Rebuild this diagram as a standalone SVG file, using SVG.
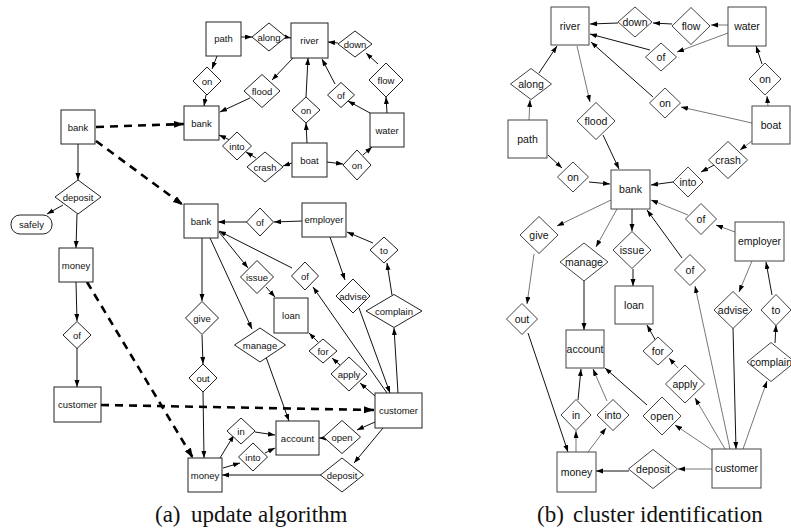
<svg xmlns="http://www.w3.org/2000/svg" width="791" height="529" viewBox="0 0 791 529">
<style>
.n rect,.n polygon{fill:#fff;stroke:#222;stroke-width:1}
.b rect,.b polygon{fill:#fff;stroke:#444;stroke-width:1}
.n text{font-family:"Liberation Sans",Arial,sans-serif;font-size:9.5px;text-anchor:middle;fill:#111}
.b text{font-family:"Liberation Sans",Arial,sans-serif;font-size:10.5px;text-anchor:middle;fill:#111}
.e line{stroke:#111;stroke-width:1;marker-end:url(#ah)}
.e line.g{stroke:#777}
.e line.d{stroke:#000;stroke-width:2.6;stroke-dasharray:8,6;marker-end:url(#dh)}
text.cap{font-family:"Liberation Serif","Times New Roman",serif;font-size:23px;fill:#111}
</style>
<defs>
<marker id="ah" markerUnits="userSpaceOnUse" markerWidth="8" markerHeight="6" refX="7" refY="2.5" orient="auto"><path d="M0,0 L7,2.5 L0,5 z" fill="#000"/></marker>
<marker id="dh" markerUnits="userSpaceOnUse" markerWidth="11" markerHeight="8" refX="10" refY="3.5" orient="auto"><path d="M0,0 L10,3.5 L0,7 z" fill="#000"/></marker>
</defs>
<rect width="791" height="529" fill="#fff"/>

<g id="connectors" class="e">
<line x1="78" y1="144" x2="78" y2="180"/>
<line x1="63" y1="205" x2="47" y2="214"/>
<line x1="77" y1="214" x2="76" y2="248"/>
<line x1="76" y1="282" x2="77" y2="321"/>
<line x1="77" y1="348" x2="77" y2="387"/>
<line class="d" x1="96" y1="127" x2="184" y2="124"/>
<line class="d" x1="96" y1="141" x2="183" y2="205"/>
<line class="d" x1="87" y1="282" x2="193" y2="458"/>
<line class="d" x1="101" y1="405" x2="374" y2="410"/>
<line x1="241" y1="37" x2="252" y2="37"/>
<line x1="286" y1="37" x2="291" y2="38"/>
<line x1="217" y1="56" x2="212" y2="69"/>
<line x1="206" y1="95" x2="204" y2="106"/>
<line x1="293" y1="58" x2="272" y2="80"/>
<line x1="250" y1="98" x2="220" y2="112"/>
<line x1="307" y1="143" x2="306" y2="123"/>
<line x1="306" y1="97" x2="308" y2="58"/>
<line x1="370" y1="113" x2="348" y2="101"/>
<line x1="335" y1="84" x2="322" y2="59"/>
<line x1="387" y1="113" x2="386" y2="97"/>
<line x1="378" y1="64" x2="366" y2="53"/>
<line x1="338" y1="43" x2="328" y2="42"/>
<line x1="292" y1="163" x2="283" y2="166"/>
<line x1="256" y1="158" x2="246" y2="152"/>
<line x1="230" y1="140" x2="219" y2="135"/>
<line x1="327" y1="162" x2="343" y2="164"/>
<line x1="363" y1="155" x2="372" y2="147"/>
<line x1="302" y1="221" x2="274" y2="222"/>
<line x1="247" y1="222" x2="218" y2="222"/>
<line x1="202" y1="238" x2="202" y2="301"/>
<line x1="202" y1="335" x2="203" y2="364"/>
<line x1="203" y1="392" x2="204" y2="458"/>
<line x1="219" y1="232" x2="248" y2="268"/>
<line x1="266" y1="287" x2="275" y2="297"/>
<line x1="210" y1="238" x2="252" y2="329"/>
<line x1="266" y1="357" x2="289" y2="421"/>
<line x1="387" y1="393" x2="313" y2="287"/>
<line x1="292" y1="268" x2="219" y2="231"/>
<line x1="330" y1="237" x2="345" y2="280"/>
<line x1="359" y1="308" x2="390" y2="393"/>
<line x1="398" y1="393" x2="394" y2="328"/>
<line x1="392" y1="295" x2="387" y2="263"/>
<line x1="373" y1="243" x2="347" y2="232"/>
<line x1="375" y1="396" x2="360" y2="383"/>
<line x1="340" y1="365" x2="332" y2="358"/>
<line x1="318" y1="342" x2="309" y2="333"/>
<line x1="375" y1="422" x2="357" y2="430"/>
<line x1="325" y1="438" x2="319" y2="438"/>
<line x1="383" y1="428" x2="354" y2="463"/>
<line x1="321" y1="475" x2="222" y2="475"/>
<line x1="220" y1="458" x2="234" y2="435"/>
<line x1="255" y1="432" x2="275" y2="435"/>
<line x1="223" y1="468" x2="240" y2="463"/>
<line x1="265" y1="453" x2="275" y2="448"/>

<line class="g" x1="577" y1="46" x2="590" y2="102"/>
<line x1="603" y1="135" x2="619" y2="169"/>
<line class="g" x1="529" y1="120" x2="530" y2="100"/>
<line x1="539" y1="73" x2="557" y2="46"/>
<line x1="548" y1="155" x2="562" y2="168"/>
<line x1="589" y1="182" x2="610" y2="184"/>
<line class="g" x1="728" y1="25" x2="711" y2="25"/>
<line x1="672" y1="24" x2="653" y2="23"/>
<line x1="618" y1="23" x2="590" y2="24"/>
<line class="g" x1="728" y1="33" x2="677" y2="52"/>
<line x1="650" y1="50" x2="590" y2="34"/>
<line class="g" x1="752" y1="123" x2="681" y2="107"/>
<line x1="653" y1="97" x2="591" y2="42"/>
<line class="g" x1="768" y1="106" x2="767" y2="96"/>
<line x1="762" y1="64" x2="756" y2="46"/>
<line class="g" x1="752" y1="141" x2="740" y2="150"/>
<line x1="718" y1="163" x2="701" y2="172"/>
<line x1="673" y1="182" x2="651" y2="185"/>
<line class="g" x1="735" y1="232" x2="716" y2="225"/>
<line class="g" x1="688" y1="215" x2="651" y2="200"/>
<line class="g" x1="611" y1="200" x2="557" y2="226"/>
<line class="g" x1="534" y1="254" x2="527" y2="304"/>
<line x1="528" y1="333" x2="568" y2="452"/>
<line class="g" x1="617" y1="209" x2="596" y2="247"/>
<line x1="584" y1="281" x2="584" y2="330"/>
<line x1="632" y1="209" x2="632" y2="231"/>
<line x1="633" y1="269" x2="633" y2="286"/>
<line class="g" x1="730" y1="449" x2="695" y2="286"/>
<line x1="682" y1="258" x2="647" y2="210"/>
<line class="g" x1="752" y1="261" x2="739" y2="292"/>
<line x1="733" y1="328" x2="736" y2="449"/>
<line class="g" x1="743" y1="449" x2="767" y2="381"/>
<line x1="775" y1="343" x2="776" y2="325"/>
<line x1="772" y1="295" x2="766" y2="262"/>
<line class="g" x1="725" y1="449" x2="695" y2="398"/>
<line class="g" x1="678" y1="368" x2="669" y2="358"/>
<line x1="657" y1="343" x2="647" y2="325"/>
<line class="g" x1="712" y1="450" x2="675" y2="425"/>
<line x1="647" y1="405" x2="605" y2="368"/>
<line class="g" x1="712" y1="469" x2="678" y2="469"/>
<line x1="629" y1="471" x2="596" y2="471"/>
<line class="g" x1="576" y1="452" x2="576" y2="431"/>
<line x1="578" y1="400" x2="581" y2="369"/>
<line class="g" x1="588" y1="452" x2="606" y2="428"/>
<line class="g" x1="607" y1="401" x2="593" y2="369"/>
</g>

<g class="n">
<g id="a-bank1"><rect x="61" y="110" width="34" height="34"/><text x="78" y="131">bank</text></g>
<g id="a-deposit1"><polygon points="78,180 101,197 78,214 55,197"/><text x="78" y="200.5">deposit</text></g>
<g id="a-safely"><rect x="11" y="215" width="41" height="19" rx="9"/><text x="31.5" y="228">safely</text></g>
<g id="a-money1"><rect x="59" y="248" width="34" height="34"/><text x="76" y="268.5">money</text></g>
<g id="a-of1"><polygon points="77,321.5 91,335 77,348.5 63,335"/><text x="77" y="338.5">of</text></g>
<g id="a-customer1"><rect x="54" y="387" width="47" height="35"/><text x="77.5" y="408">customer</text></g>

<g id="a-bank2"><rect x="184" y="106" width="35" height="34"/><text x="201.5" y="127">bank</text></g>
<g id="a-path"><rect x="206" y="22" width="35" height="34"/><text x="223.5" y="42">path</text></g>
<g id="a-along"><polygon points="269,23 286,37 269,51 252,37"/><text x="269" y="40.5">along</text></g>
<g id="a-river"><rect x="291" y="23" width="37" height="35"/><text x="309.5" y="44">river</text></g>
<g id="a-down"><polygon points="355,31 372,44 355,57 338,44"/><text x="355" y="47.5">down</text></g>
<g id="a-on-pb"><polygon points="207,67 221,81 207,95 193,81"/><text x="207" y="84.5">on</text></g>
<g id="a-flood"><polygon points="262,74.5 280,91 262,107.5 244,91"/><text x="262" y="94.5">flood</text></g>
<g id="a-on-br"><polygon points="306,97 320,110 306,123 292,110"/><text x="306" y="113.5">on</text></g>
<g id="a-of-wr"><polygon points="341,82.5 354.5,95 341,107.5 327.5,95"/><text x="341" y="98.5">of</text></g>
<g id="a-flow"><polygon points="386,63 403,80 386,97 369,80"/><text x="386" y="83.5">flow</text></g>
<g id="a-water"><rect x="370" y="113" width="34" height="34"/><text x="387" y="133.5">water</text></g>
<g id="a-into1"><polygon points="237,132 251.5,146 237,160 222.5,146"/><text x="237" y="149.5">into</text></g>
<g id="a-crash"><polygon points="265,152 283,167 265,182 247,167"/><text x="265" y="170.5">crash</text></g>
<g id="a-boat"><rect x="292" y="143" width="35" height="34"/><text x="309.5" y="163.5">boat</text></g>
<g id="a-on-bw"><polygon points="357,150 371,165 357,180 343,165"/><text x="357" y="168.5">on</text></g>

<g id="a-bank3"><rect x="184" y="204" width="34" height="34"/><text x="201" y="224.5">bank</text></g>
<g id="a-of-eb"><polygon points="260,208 273.5,222 260,236 246.5,222"/><text x="260" y="225.5">of</text></g>
<g id="a-employer"><rect x="302" y="203" width="44" height="34"/><text x="324" y="223">employer</text></g>
<g id="a-to"><polygon points="384,237 398,250 384,263 370,250"/><text x="384" y="253.5">to</text></g>
<g id="a-issue"><polygon points="257,260.5 273.5,277 257,293.5 240.5,277"/><text x="257" y="280.5">issue</text></g>
<g id="a-of-cb"><polygon points="305,262 318.5,276 305,290 291.5,276"/><text x="305" y="279.5">of</text></g>
<g id="a-advise"><polygon points="353,279 370,296 353,313 336,296"/><text x="353" y="299.5">advise</text></g>
<g id="a-complain"><polygon points="394,294.5 422,311 394,327.5 366,311"/><text x="394" y="314.5">complain</text></g>
<g id="a-give"><polygon points="202,301.5 218.5,318 202,334.5 185.5,318"/><text x="202" y="321.5">give</text></g>
<g id="a-loan"><rect x="274" y="298" width="34" height="35"/><text x="291" y="319">loan</text></g>
<g id="a-manage"><polygon points="260,328 285.5,345 260,362 234.5,345"/><text x="260" y="348.5">manage</text></g>
<g id="a-for"><polygon points="323,339 337,351 323,363 309,351"/><text x="323" y="354.5">for</text></g>
<g id="a-apply"><polygon points="349,357 367,374 349,391 331,374"/><text x="349" y="377.5">apply</text></g>
<g id="a-out"><polygon points="203,364 217,378 203,392 189,378"/><text x="203" y="381.5">out</text></g>
<g id="a-customer2"><rect x="375" y="393" width="47" height="35"/><text x="398.5" y="414">customer</text></g>
<g id="a-in"><polygon points="241,418 255,431 241,444 227,431"/><text x="241" y="434.5">in</text></g>
<g id="a-account"><rect x="276" y="421" width="43" height="34"/><text x="297.5" y="441.5">account</text></g>
<g id="a-open"><polygon points="342,420.5 360.5,437 342,453.5 323.5,437"/><text x="342" y="440.5">open</text></g>
<g id="a-into2"><polygon points="253,443 267.5,457 253,471 238.5,457"/><text x="253" y="460.5">into</text></g>
<g id="a-money2"><rect x="188" y="458" width="34" height="34"/><text x="205" y="478.5">money</text></g>
<g id="a-deposit2"><polygon points="342,458 363.5,475 342,492 320.5,475"/><text x="342" y="478.5">deposit</text></g>
</g>

<g class="b">
<g id="b-river"><rect x="551" y="7" width="38" height="38"/><text x="570" y="30">river</text></g>
<g id="b-down"><polygon points="635,7 652,22 635,37 618,22"/><text x="635" y="26">down</text></g>
<g id="b-flow"><polygon points="691,7.5 710,26 691,44.5 672,26"/><text x="691" y="30">flow</text></g>
<g id="b-water"><rect x="728" y="7" width="38" height="39"/><text x="747" y="30">water</text></g>
<g id="b-of-wr"><polygon points="661,43 676.5,57 661,71 645.5,57"/><text x="661" y="61">of</text></g>
<g id="b-along"><polygon points="531,68.5 551.5,84 531,99.5 510.5,84"/><text x="531" y="88">along</text></g>
<g id="b-on-bw"><polygon points="765,63 781,79 765,95 749,79"/><text x="765" y="83">on</text></g>
<g id="b-on-br"><polygon points="665,88 680.5,103 665,118 649.5,103"/><text x="665" y="107">on</text></g>
<g id="b-flood"><polygon points="596,102.5 615,121 596,139.5 577,121"/><text x="596" y="125">flood</text></g>
<g id="b-path"><rect x="508" y="120" width="39" height="38"/><text x="527.5" y="143">path</text></g>
<g id="b-boat"><rect x="752" y="106" width="38" height="38"/><text x="771" y="129">boat</text></g>
<g id="b-crash"><polygon points="728,141.5 747.5,160 728,178.5 708.5,160"/><text x="728" y="164">crash</text></g>
<g id="b-on-pb"><polygon points="573,162 588.5,177 573,192 557.5,177"/><text x="573" y="181">on</text></g>
<g id="b-into"><polygon points="688,167 703,182 688,197 673,182"/><text x="688" y="186">into</text></g>
<g id="b-bank"><rect x="611" y="170" width="39" height="39"/><text x="630.5" y="193">bank</text></g>
<g id="b-of-eb"><polygon points="701,203.5 716.5,219 701,234.5 685.5,219"/><text x="701" y="223">of</text></g>
<g id="b-employer"><rect x="735" y="222" width="49" height="39"/><text x="759.5" y="245">employer</text></g>
<g id="b-give"><polygon points="539,216.5 558,235 539,253.5 520,235"/><text x="539" y="239">give</text></g>
<g id="b-manage"><polygon points="584,243 608,262 584,281 560,262"/><text x="584" y="266">manage</text></g>
<g id="b-issue"><polygon points="632,231.5 651,250 632,268.5 613,250"/><text x="632" y="254">issue</text></g>
<g id="b-of-cb"><polygon points="690,254.5 705.5,270 690,285.5 674.5,270"/><text x="690" y="274">of</text></g>
<g id="b-loan"><rect x="615" y="286" width="38" height="38"/><text x="634" y="309">loan</text></g>
<g id="b-advise"><polygon points="733,291.5 752,310 733,328.5 714,310"/><text x="733" y="314">advise</text></g>
<g id="b-to"><polygon points="776,294.5 791,310 776,325.5 761,310"/><text x="776" y="314">to</text></g>
<g id="b-out"><polygon points="522,303.5 537.5,319 522,334.5 506.5,319"/><text x="522" y="323">out</text></g>
<g id="b-account"><rect x="566" y="330" width="38" height="38"/><text x="585" y="353">account</text></g>
<g id="b-for"><polygon points="658,337 673,351 658,365 643,351"/><text x="658" y="355">for</text></g>
<g id="b-complain"><polygon points="771,342.5 795,362 771,381.5 747,362"/><text x="771" y="366">complain</text></g>
<g id="b-apply"><polygon points="685,365 704.5,384 685,403 665.5,384"/><text x="685" y="388">apply</text></g>
<g id="b-in"><polygon points="576,399.5 591,415 576,430.5 561,415"/><text x="576" y="419">in</text></g>
<g id="b-into2"><polygon points="613,399.5 629,415 613,430.5 597,415"/><text x="613" y="419">into</text></g>
<g id="b-open"><polygon points="662,397 681,416 662,435 643,416"/><text x="662" y="420">open</text></g>
<g id="b-money"><rect x="557" y="452" width="39" height="40"/><text x="576.5" y="476">money</text></g>
<g id="b-deposit"><polygon points="653,449.5 677.5,469 653,488.5 628.5,469"/><text x="653" y="473">deposit</text></g>
<g id="b-customer"><rect x="712" y="449" width="49" height="39"/><text x="736.5" y="472">customer</text></g>
</g>

<text class="cap" font-family="Liberation Serif, Times New Roman, serif" font-size="23" y="522"><tspan x="155">(a)</tspan><tspan x="191">update algorithm</tspan></text>
<text class="cap" font-family="Liberation Serif, Times New Roman, serif" font-size="23" y="522"><tspan x="537">(b)</tspan><tspan x="573">cluster identification</tspan></text>
</svg>
